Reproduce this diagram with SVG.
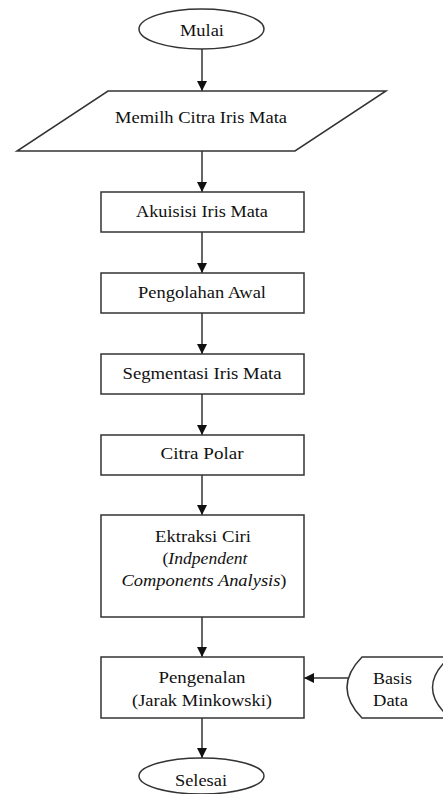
<svg xmlns="http://www.w3.org/2000/svg" width="443" height="794" viewBox="0 0 443 794">
<defs>
<marker id="arr" viewBox="0 0 10 10" refX="10" refY="5" markerWidth="10" markerHeight="10" markerUnits="userSpaceOnUse" orient="auto">
<path d="M0,0 L10,5 L0,10 z" fill="#111"/>
</marker>
<style>
.s{fill:#fff;stroke:#333;stroke-width:1.5}
.t{font-family:"Liberation Serif","Times New Roman",serif;font-size:16.5px;fill:#111;text-anchor:middle}
.i{font-style:italic}
.c{stroke:#333;stroke-width:1.5;fill:none;marker-end:url(#arr)}
</style>
</defs>
<rect width="443" height="794" fill="#fff"/>
<g id="connectors">
<line class="c" x1="202" y1="49" x2="202" y2="91"/>
<line class="c" x1="202" y1="151" x2="202" y2="192"/>
<line class="c" x1="202" y1="232" x2="202" y2="273"/>
<line class="c" x1="202" y1="313" x2="202" y2="354"/>
<line class="c" x1="202" y1="394" x2="202" y2="435"/>
<line class="c" x1="202" y1="475" x2="202" y2="515"/>
<line class="c" x1="202" y1="617" x2="202" y2="657"/>
<line class="c" x1="202" y1="718" x2="202" y2="758"/>
<line class="c" x1="348" y1="678" x2="304" y2="678"/>
</g>
<g id="mulai">
<ellipse class="s" cx="201.5" cy="29" rx="62.5" ry="20"/>
<text class="t" x="202" y="36" textLength="44" lengthAdjust="spacingAndGlyphs">Mulai</text>
</g>
<g id="memilih">
<path class="s" d="M108,91 L386,91 L295,151 L17,151 Z"/>
<text class="t" x="201" y="123" textLength="172" lengthAdjust="spacingAndGlyphs">Memilh Citra Iris Mata</text>
</g>
<g id="akuisisi">
<rect class="s" x="101" y="192" width="203" height="40"/>
<text class="t" x="202" y="217" textLength="132" lengthAdjust="spacingAndGlyphs">Akuisisi Iris Mata</text>
</g>
<g id="pengolahan">
<rect class="s" x="101" y="273" width="203" height="40"/>
<text class="t" x="202" y="298" textLength="128" lengthAdjust="spacingAndGlyphs">Pengolahan Awal</text>
</g>
<g id="segmentasi">
<rect class="s" x="101" y="354" width="203" height="40"/>
<text class="t" x="202" y="379" textLength="159" lengthAdjust="spacingAndGlyphs">Segmentasi Iris Mata</text>
</g>
<g id="citra-polar">
<rect class="s" x="101" y="435" width="203" height="40"/>
<text class="t" x="202" y="459" textLength="83" lengthAdjust="spacingAndGlyphs">Citra Polar</text>
</g>
<g id="ektraksi">
<rect class="s" x="101" y="515" width="203" height="102"/>
<text class="t" x="203" y="542" textLength="96" lengthAdjust="spacingAndGlyphs">Ektraksi Ciri</text>
<text class="t" x="205" y="564" textLength="85" lengthAdjust="spacingAndGlyphs">(<tspan class="i">Indpendent</tspan></text>
<text class="t" x="204" y="586" textLength="165" lengthAdjust="spacingAndGlyphs"><tspan class="i">Components Analysis</tspan>)</text>
</g>
<g id="pengenalan">
<rect class="s" x="101" y="657" width="203" height="61"/>
<text class="t" x="202" y="683" textLength="87" lengthAdjust="spacingAndGlyphs">Pengenalan</text>
<text class="t" x="202" y="706" textLength="140" lengthAdjust="spacingAndGlyphs">(Jarak Minkowski)</text>
</g>
<g id="basis-data">
<path class="s" d="M362,657 L450,657 Q415,687.5 450,718 L362,718 Q332,687.5 362,657 Z"/>
<text class="t" x="392.5" y="684" textLength="39" lengthAdjust="spacingAndGlyphs">Basis</text>
<text class="t" x="390.5" y="706" textLength="35" lengthAdjust="spacingAndGlyphs">Data</text>
</g>
<g id="selesai">
<ellipse class="s" cx="201.5" cy="776" rx="62.5" ry="18"/>
<text class="t" x="201" y="786" textLength="52" lengthAdjust="spacingAndGlyphs">Selesai</text>
</g>
</svg>
